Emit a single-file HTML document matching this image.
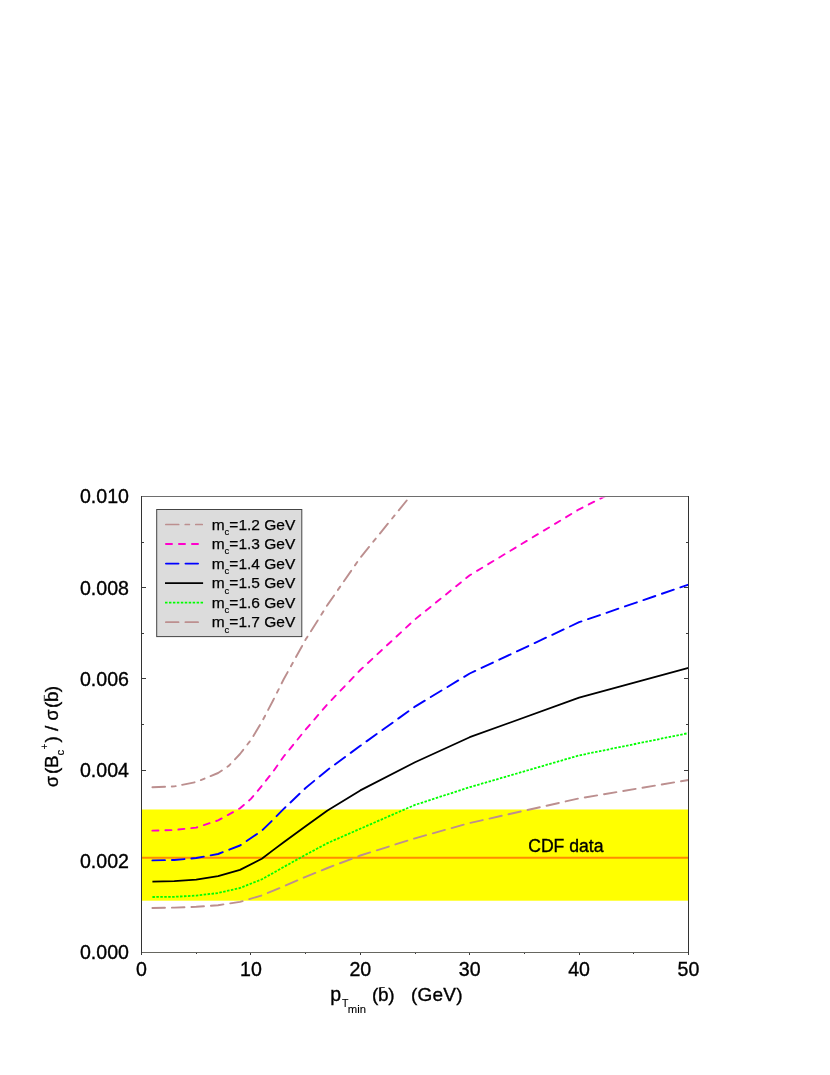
<!DOCTYPE html>
<html><head><meta charset="utf-8"><title>chart</title>
<style>
html,body{margin:0;padding:0;background:#fff;}
body{width:830px;height:1075px;position:relative;overflow:hidden;font-family:"Liberation Sans",sans-serif;}
svg{will-change:transform;transform:translateZ(0);}
svg text{font-family:"Liberation Sans",sans-serif;fill:#000;stroke:#000;stroke-width:0.35px;}
svg text.thin, svg tspan.thin{stroke-width:0.12px;}
svg text.leg{stroke-width:0.25px;}
</style></head><body>
<svg width="830" height="1075" viewBox="0 0 830 1075" style="position:absolute;left:0;top:0">
<defs><clipPath id="cp"><rect x="141.5" y="497.5" width="547.0" height="455.0"/></clipPath></defs>
<g fill="#3c3c3c"><rect x="142" y="770" width="4" height="1"/><rect x="684" y="770" width="4" height="1"/><rect x="142" y="724" width="2" height="1"/><rect x="686" y="724" width="2" height="1"/><rect x="142" y="678" width="4" height="1"/><rect x="684" y="678" width="4" height="1"/><rect x="142" y="633" width="2" height="1"/><rect x="686" y="633" width="2" height="1"/><rect x="142" y="587" width="4" height="1"/><rect x="684" y="587" width="4" height="1"/><rect x="142" y="542" width="2" height="1"/><rect x="686" y="542" width="2" height="1"/><rect x="142" y="496" width="4" height="1"/><rect x="684" y="496" width="4" height="1"/><rect x="141" y="953" width="1" height="2"/><rect x="196" y="953" width="1" height="1"/><rect x="250" y="953" width="1" height="2"/><rect x="305" y="953" width="1" height="1"/><rect x="360" y="953" width="1" height="2"/><rect x="415" y="953" width="1" height="1"/><rect x="469" y="953" width="1" height="2"/><rect x="524" y="953" width="1" height="1"/><rect x="579" y="953" width="1" height="2"/><rect x="633" y="953" width="1" height="1"/><rect x="688" y="953" width="1" height="2"/></g>
<rect x="141.5" y="809.5" width="547.0" height="91.2" fill="#ffff00"/>
<line x1="141.5" x2="688.5" y1="857.7" y2="857.7" stroke="#ff8c00" stroke-width="2"/>
<g clip-path="url(#cp)" fill="none" stroke-linejoin="round">
<path d="M152.4,908.0 L174.3,907.6 L196.2,906.8 L218.1,905.2 L240.0,901.9 L261.8,895.4 L272.8,890.9 L283.7,886.4 L305.6,876.8 L327.5,868.0 L360.3,855.5 L415.0,838.3 L469.7,823.0 L579.1,798.4 L688.5,780.0" stroke="#bc8f8f" stroke-width="1.9" stroke-dasharray="12.58 6.94" stroke-linecap="round" stroke-dashoffset="0"/>
<path d="M152.4,897.0 L174.3,896.8 L196.2,895.6 L218.1,893.0 L240.0,888.0 L261.8,879.3 L272.8,873.2 L283.7,867.0 L305.6,854.8 L327.5,843.1 L360.3,828.7 L415.0,804.9 L469.7,787.2 L579.1,755.4 L688.5,733.1" stroke="#00ff00" stroke-width="1.8" stroke-dasharray="2.50 1.45"/>
<path d="M152.4,881.6 L174.3,881.2 L196.2,879.6 L218.1,876.2 L240.0,869.9 L261.8,858.7 L272.8,850.4 L283.7,842.2 L305.6,826.2 L327.5,810.6 L360.3,790.4 L415.0,762.2 L469.7,737.2 L579.1,697.7 L688.5,667.9" stroke="#000000" stroke-width="1.8"/>
<path d="M152.4,860.4 L174.3,860.0 L196.2,858.0 L218.1,854.0 L240.0,845.5 L261.8,830.7 L272.8,820.0 L283.7,808.9 L305.6,788.0 L327.5,769.9 L360.3,745.8 L415.0,706.6 L469.7,673.5 L579.1,622.2 L688.5,584.6" stroke="#0000ff" stroke-width="1.9" stroke-dasharray="12.58 6.95" stroke-linecap="round" stroke-dashoffset="0"/>
<path d="M152.4,830.6 L174.3,830.0 L196.2,827.6 L218.1,820.4 L240.0,808.3 L250.9,798.9 L261.8,785.9 L272.8,772.0 L283.7,756.5 L305.6,729.6 L327.5,704.2 L360.3,670.0 L415.0,619.4 L469.7,575.3 L579.1,509.3 L688.5,454.3" stroke="#ff00cc" stroke-width="1.9" stroke-dasharray="6.08 6.92" stroke-linecap="round" stroke-dashoffset="0"/>
<path d="M152.4,787.2 L174.3,786.4 L196.2,782.0 L218.1,773.0 L229.0,765.6 L240.0,754.0 L250.9,740.0 L261.8,722.0 L272.8,701.0 L283.7,679.3 L305.6,639.6 L327.5,604.9 L360.3,557.7 L415.0,490.3" stroke="#bc8f8f" stroke-width="1.9" stroke-dasharray="12.68 6.72 3.98 6.52" stroke-linecap="round" stroke-dashoffset="0"/>
</g>
<rect x="141" y="496" width="1" height="457" fill="#333"/>
<rect x="688" y="496" width="1" height="457" fill="#333"/>
<rect x="142" y="496" width="546" height="1" fill="#6e6e6e"/>
<rect x="142" y="952" width="546" height="1" fill="#666660"/>
<rect x="156.7" y="509.5" width="145.1" height="127.1" fill="#dcdcdc" stroke="#444" stroke-width="1"/>
<line x1="165.85" x2="202.25" y1="524.5" y2="524.5" stroke="#bc8f8f" stroke-width="1.7" stroke-dasharray="12.84 6.56 4.14 6.36" stroke-linecap="round" stroke-dashoffset="0"/>
<text x="211.7" y="529.5" font-size="15.5" class="leg">m<tspan font-size="9.5" dy="5.4" class="thin">c</tspan><tspan dy="-5.4">=1.2 GeV</tspan></text>
<line x1="165.95" x2="202.15" y1="544.0" y2="544.0" stroke="#ff00cc" stroke-width="1.9" stroke-dasharray="6.08 6.92" stroke-linecap="round" stroke-dashoffset="0"/>
<text x="211.7" y="549.0" font-size="15.5" class="leg">m<tspan font-size="9.5" dy="5.4" class="thin">c</tspan><tspan dy="-5.4">=1.3 GeV</tspan></text>
<line x1="165.95" x2="202.15" y1="563.6" y2="563.6" stroke="#0000ff" stroke-width="1.9" stroke-dasharray="12.58 6.95" stroke-linecap="round" stroke-dashoffset="0"/>
<text x="211.7" y="568.6" font-size="15.5" class="leg">m<tspan font-size="9.5" dy="5.4" class="thin">c</tspan><tspan dy="-5.4">=1.4 GeV</tspan></text>
<line x1="165.00" x2="203.10" y1="583.1" y2="583.1" stroke="#000000" stroke-width="1.9"/>
<text x="211.7" y="588.1" font-size="15.5" class="leg">m<tspan font-size="9.5" dy="5.4" class="thin">c</tspan><tspan dy="-5.4">=1.5 GeV</tspan></text>
<line x1="165.00" x2="203.10" y1="602.7" y2="602.7" stroke="#00ff00" stroke-width="1.8" stroke-dasharray="2.50 1.45"/>
<text x="211.7" y="607.7" font-size="15.5" class="leg">m<tspan font-size="9.5" dy="5.4" class="thin">c</tspan><tspan dy="-5.4">=1.6 GeV</tspan></text>
<line x1="165.85" x2="202.25" y1="622.2" y2="622.2" stroke="#bc8f8f" stroke-width="1.7" stroke-dasharray="12.74 6.78" stroke-linecap="round" stroke-dashoffset="0"/>
<text x="211.7" y="627.2" font-size="15.5" class="leg">m<tspan font-size="9.5" dy="5.4" class="thin">c</tspan><tspan dy="-5.4">=1.7 GeV</tspan></text>
<text x="129.0" y="959.4" font-size="19.6" text-anchor="end">0.000</text>
<text x="129.0" y="868.2" font-size="19.6" text-anchor="end">0.002</text>
<text x="129.0" y="777.0" font-size="19.6" text-anchor="end">0.004</text>
<text x="129.0" y="685.8" font-size="19.6" text-anchor="end">0.006</text>
<text x="129.0" y="594.6" font-size="19.6" text-anchor="end">0.008</text>
<text x="129.0" y="503.4" font-size="19.6" text-anchor="end">0.010</text>
<text x="141.5" y="975.6" font-size="19.6" text-anchor="middle">0</text>
<text x="250.9" y="975.6" font-size="19.6" text-anchor="middle">10</text>
<text x="360.3" y="975.6" font-size="19.6" text-anchor="middle">20</text>
<text x="469.7" y="975.6" font-size="19.6" text-anchor="middle">30</text>
<text x="579.1" y="975.6" font-size="19.6" text-anchor="middle">40</text>
<text x="688.5" y="975.6" font-size="19.6" text-anchor="middle">50</text>
<text x="528.2" y="852.4" font-size="17.6">CDF data</text>
<text x="330.2" y="1001.2" font-size="19.5">p</text>
<text x="342" y="1007" font-size="10.5" class="thin">T</text>
<text x="347.8" y="1012.8" font-size="11.3" class="thin">min</text>
<text x="372.1" y="1001.2" font-size="19" letter-spacing="-0.4">(b)</text>
<line x1="379.4" x2="384.8" y1="987.5" y2="987.5" stroke="#222" stroke-width="0.9"/>
<text x="411.1" y="1001.2" font-size="19" letter-spacing="0.2">(GeV)</text>
<text transform="translate(58.3,786.9) rotate(-90)" font-size="18">σ</text>
<text transform="translate(58.3,774.1) rotate(-90)" font-size="19">(</text>
<text transform="translate(58.3,768.1) rotate(-90)" font-size="19">B</text>
<text transform="translate(63.7,755.4) rotate(-90)" font-size="11.5" class="thin">c</text>
<text transform="translate(47.6,749.5) rotate(-90)" font-size="10" class="thin">+</text>
<text transform="translate(58.3,742.6) rotate(-90)" font-size="19">)</text>
<text transform="translate(58.3,731.1) rotate(-90)" font-size="19">/</text>
<text transform="translate(58.3,720.4) rotate(-90)" font-size="18">σ</text>
<text transform="translate(58.3,707.9) rotate(-90)" font-size="19">(</text>
<text transform="translate(58.3,701.9) rotate(-90)" font-size="19">b</text>
<text transform="translate(58.3,692.2) rotate(-90)" font-size="19">)</text>
<line x1="44.3" x2="44.3" y1="701.2" y2="695" stroke="#222" stroke-width="0.9"/>
</svg>
</body></html>
